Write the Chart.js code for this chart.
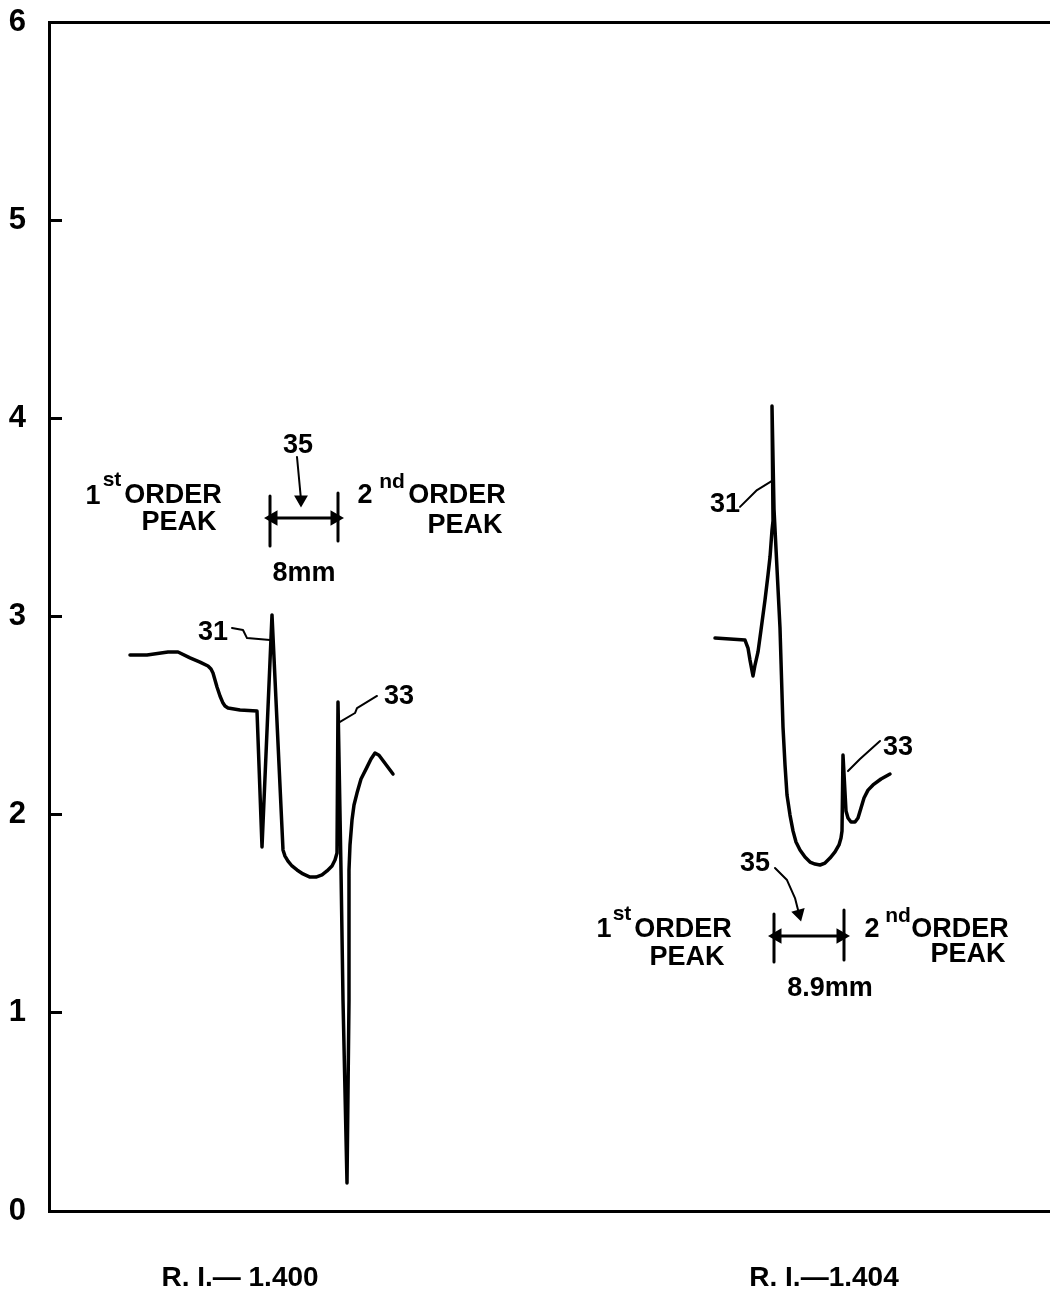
<!DOCTYPE html>
<html>
<head>
<meta charset="utf-8">
<title>Refractive index traces</title>
<script src="https://cdn.jsdelivr.net/npm/chart.js@4/dist/chart.umd.min.js"></script>
<style>
  body { margin: 0; background: #fff; }
  canvas { display: block; }
</style>
</head>
<body>
<canvas id="traceChart" width="1050" height="1295"></canvas>
<script>
// x has no printed unit, so it just runs 0-1001 along the plot width
const xMax = 1001;
const yTicks = [0, 1, 2, 3, 4, 5, 6];
const xTickPositions = [191, 775];
const xTickLabels = ["R. I.\u2014 1.400", "R. I.\u20141.404"];

// trace for R.I. 1.400
const trace1X = [81, 98, 119, 129, 141, 151, 159, 162, 164, 166, 168, 171, 174, 176, 179, 191, 208, 213, 223,
                 234, 236, 239, 243, 248, 254, 261, 267, 273, 278, 283, 286, 288, 289, 292, 294, 298,
                 300, 300, 301, 303, 305, 308, 312, 318, 322, 326, 330, 344];
const trace1Y = [2.806, 2.806, 2.821, 2.821, 2.791, 2.770, 2.750, 2.735, 2.715, 2.680, 2.644, 2.599, 2.563, 2.548, 2.538, 2.528, 2.523, 1.837, 3.008,
                 1.822, 1.791, 1.766, 1.741, 1.721, 1.701, 1.685, 1.685, 1.696, 1.716, 1.741, 1.771, 1.807, 2.569, 1.721, 1.065, 0.141,
                 1.065, 1.721, 1.847, 1.973, 2.049, 2.109, 2.180, 2.240, 2.281, 2.311, 2.300, 2.205];

// trace for R.I. 1.404
const trace2X = [666, 681, 696, 699, 701, 704, 706, 709, 712, 716, 719, 721, 723, 724, 723, 725, 731, 734, 736, 738, 741, 744, 747,
                 751, 756, 761, 766, 771, 776, 781, 786, 790, 792, 793, 794, 797, 799, 802, 806, 809, 812, 815, 819, 824, 832, 841];
const trace2Y = [2.891, 2.886, 2.881, 2.841, 2.780, 2.700, 2.755, 2.821, 2.932, 3.083, 3.209, 3.300, 3.436, 3.482, 4.062, 3.542, 2.942, 2.442, 2.251, 2.099, 1.998, 1.918, 1.862,
                 1.822, 1.786, 1.761, 1.751, 1.746, 1.756, 1.781, 1.812, 1.847, 1.882, 1.918, 2.301, 2.018, 1.983, 1.963, 1.963, 1.983, 2.034, 2.084, 2.124, 2.150, 2.180, 2.205];

// leader lines from the reference numbers
const leaders = [
  { x: [183, 194, 198, 221], y: [2.942, 2.932, 2.891, 2.881] },
  { x: [291, 306, 308, 328], y: [2.468, 2.513, 2.538, 2.599] },
  { x: [691, 708, 723], y: [3.553, 3.638, 3.684] },
  { x: [799, 811, 831], y: [2.220, 2.281, 2.372] }
];

// end bars of the two spacing brackets
const bars = [
  { x: [221, 221], y: [3.608, 3.356] },
  { x: [289, 289], y: [3.623, 3.381] },
  { x: [725, 725], y: [1.499, 1.256] },
  { x: [795, 795], y: [1.519, 1.267] }
];

// double arrows between the bars
const spans = [
  { x: [224, 286], y: [3.497, 3.497] },
  { x: [728, 792], y: [1.388, 1.388] }
];

// the "35" pointers, arrow head on the last point
const pointers = [
  { x: [248, 252], y: [3.805, 3.590], angle: 180 },
  { x: [726, 738, 746, 750], y: [1.731, 1.670, 1.579, 1.500], angle: 165 }
];

const noteTexts = ["1", "st", "ORDER", "PEAK", "35", "8mm", "31", "33", "2", "nd", "ORDER", "PEAK",
                   "1", "st", "ORDER", "PEAK", "2", "nd", "ORDER", "PEAK", "8.9mm", "31", "33", "35"];
const noteX = [44, 63, 124, 130, 249, 255, 164, 350, 316, 343, 408, 416,
               555, 573, 634, 638, 823, 849, 911, 919, 781, 676, 849, 706];
const noteY = [3.603, 3.689, 3.608, 3.472, 3.865, 3.219, 2.917, 2.594, 3.608, 3.679, 3.608, 3.457,
               1.418, 1.499, 1.418, 1.277, 1.418, 1.489, 1.418, 1.292, 1.125, 3.563, 2.341, 1.751];
const noteSmall = ["st", "nd"];

const ink = "#000000";
const fontFamily = "'Liberation Sans', Arial, sans-serif";

function toPoints(xs, ys) {
  return xs.map((x, i) => ({ x: x, y: ys[i] }));
}

function lineSet(xs, ys, width) {
  return {
    data: toPoints(xs, ys),
    borderColor: ink,
    borderWidth: width,
    pointRadius: 0,
    tension: 0,
    borderJoinStyle: "round",
    borderCapStyle: "round"
  };
}

const datasets = [
  lineSet(trace1X, trace1Y, 3.5),
  lineSet(trace2X, trace2Y, 3.5)
];
leaders.forEach(l => datasets.push(lineSet(l.x, l.y, 2)));
bars.forEach(b => datasets.push(lineSet(b.x, b.y, 3)));
spans.forEach(s => {
  const d = lineSet(s.x, s.y, 3);
  d.pointStyle = "triangle";
  d.pointRadius = 6;
  d.pointBackgroundColor = ink;
  d.pointBorderColor = ink;
  d.pointRotation = [-90, 90];
  datasets.push(d);
});
pointers.forEach(p => {
  const d = lineSet(p.x, p.y, 2);
  d.pointStyle = "triangle";
  d.pointRadius = p.x.map((x, i) => (i === p.x.length - 1 ? 6 : 0));
  d.pointBackgroundColor = ink;
  d.pointBorderColor = ink;
  d.pointRotation = p.angle;
  datasets.push(d);
});

const notesPlugin = {
  id: "notes",
  afterDatasetsDraw(chart) {
    const ctx = chart.ctx;
    ctx.save();
    ctx.fillStyle = ink;
    ctx.textAlign = "center";
    ctx.textBaseline = "middle";
    noteTexts.forEach((t, i) => {
      const size = noteSmall.includes(t) ? 21 : 27;
      ctx.font = "bold " + size + "px " + fontFamily;
      ctx.fillText(t, chart.scales.x.getPixelForValue(noteX[i]), chart.scales.y.getPixelForValue(noteY[i]));
    });
    ctx.restore();
  }
};

// label overhang would otherwise push the plot in from the canvas edges
function noScalePadding(scale) {
  scale.paddingTop = 0;
  scale.paddingBottom = 0;
  scale.paddingLeft = 0;
  scale.paddingRight = 0;
}

new Chart(document.getElementById("traceChart"), {
  type: "line",
  data: { datasets: datasets },
  plugins: [notesPlugin],
  options: {
    responsive: false,
    animation: false,
    layout: { autoPadding: false, padding: { top: 22, left: 0, right: 0, bottom: 0 } },
    plugins: { legend: { display: false }, tooltip: { enabled: false } },
    scales: {
      x: {
        type: "linear",
        min: 0,
        max: xMax,
        afterFit: scale => { scale.height = 84; noScalePadding(scale); },
        afterBuildTicks: scale => { scale.ticks = xTickPositions.map(v => ({ value: v })); },
        border: { color: ink, width: 3 },
        grid: { drawOnChartArea: false, drawTicks: false },
        ticks: {
          autoSkip: false,
          maxRotation: 0,
          padding: 50,
          color: ink,
          font: { family: fontFamily, size: 28, weight: "bold" },
          callback: (v, i) => xTickLabels[i]
        }
      },
      y: {
        min: 0,
        max: 6,
        afterFit: scale => { scale.width = 49; noScalePadding(scale); },
        afterBuildTicks: scale => { scale.ticks = yTicks.map(v => ({ value: v })); },
        border: { color: ink, width: 3 },
        grid: {
          tickLength: -13,
          tickWidth: 3,
          tickColor: ink,
          lineWidth: 3,
          // only the top edge of the frame is drawn across the plot
          color: c => (c.tick && c.tick.value === 6 ? ink : "rgba(0,0,0,0)")
        },
        ticks: {
          padding: 36,
          color: ink,
          font: { family: fontFamily, size: 31, weight: "bold" },
          callback: v => String(v)
        }
      }
    }
  }
});
</script>
</body>
</html>
